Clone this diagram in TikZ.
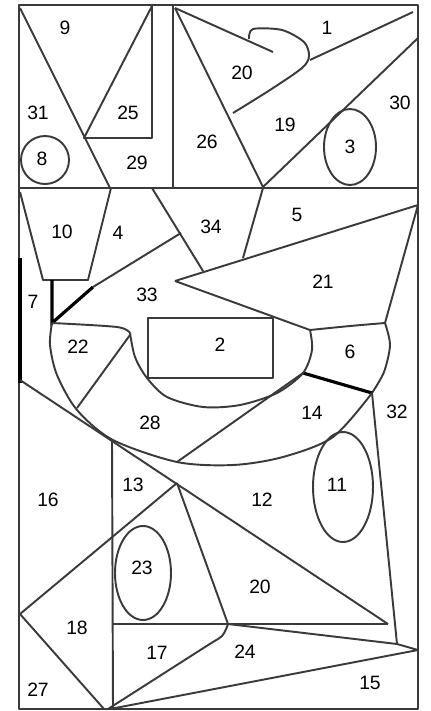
\documentclass[tikz,border=0pt]{standalone}
\usepackage{fontspec}
\setmainfont{Liberation Sans}
\definecolor{Ink}{HTML}{3A3A3A}
\begin{document}
\begin{tikzpicture}[x=0.02cm,y=-0.02cm,
    edge/.style={draw=Ink,line width=1.1pt,line join=round},
    heavy/.style={draw=black,line width=1.8pt},
    lbl/.style={font=\fontsize{11}{13}\selectfont,inner sep=0pt}
  ]
    \useasboundingbox (0,0) rectangle (430,711);
    % frame and main splits
    \draw[edge] (19,5) rectangle (418,709);
    \draw[edge] (19,188) -- (418,188);
    \draw[edge] (173,5) -- (173,188);
    % top left
    \draw[edge] (20,8) -- (110,188);
    \draw[edge] (152,6) -- (152,138) -- (84,138) -- cycle;
    \draw[edge] (45,160) circle (24);
    % top right
    \coordinate (tl) at (175,8);
    \coordinate (tb) at (263,187);
    \draw[edge] (tl) -- (tb) -- (418,38);
    \draw[edge] (tl) -- (273,52);
    \draw[edge] plot[smooth] coordinates {(249,39) (253,29) (282,30) (304,42) (309,56) (302,68) (270,90) (233,113)};
    \draw[edge] (310,60) -- (413,12);
    \draw[edge] (350,147) ellipse (26 and 38);
    % middle band
    \draw[edge] (20,192) -- (43,280) -- (88,280) -- (111,188);
    \draw[heavy] (52,280) -- (52,323) -- (93,287);
    \draw[heavy] (20,258) -- (20,383);
    \coordinate (tip) at (175,281);
    \coordinate (rt) at (418,205);
    \coordinate (sixa) at (310,330);
    \coordinate (sixb) at (385,323);
    \coordinate (sixc) at (372,393);
    \coordinate (sixd) at (303,373);
    \draw[edge] (93,287) -- (181,233);
    \draw[edge] (152,188) -- (203,271);
    \draw[edge] (263,188) -- (243,258);
    \draw[edge] (tip) -- (rt) -- (sixb);
    \draw[edge] (tip) -- (sixa);
    \draw[edge] plot[smooth] coordinates {(sixa) (350,326) (sixb)};
    \draw[edge] plot[smooth] coordinates {(sixb) (390,345) (384,372) (sixc)};
    \draw[heavy] (sixd) -- (sixc);
    \draw[edge] plot[smooth] coordinates {(52,323) (117,327) (130,333)};
    \draw[edge] plot[smooth] coordinates {(130,333) (135,357) (147,378) (167,397) (203,407) (240,405) (277,393) (sixd) (312,350) (sixa)};
    \draw[edge] (148,318) rectangle (273,378);
    \draw[edge] plot[smooth] coordinates {(52,323) (50,345) (57,375) (77,410) (113,440) (177,462) (233,465) (283,457) (333,437) (sixc)};
    \draw[edge] (130,335) -- (77,408);
    \draw[edge] (sixd) -- (177,462);
    \draw[edge] (sixc) -- (397,644);
    \draw[edge] (343,487) ellipse (30 and 55);
    % lower part
    \coordinate (apex) at (177,483);
    \coordinate (foot) at (228,624);
    \coordinate (end) at (388,624);
    \coordinate (lk) at (20,614);
    \draw[edge] (20,380) -- (end);
    \draw[edge] (112,440) -- (113,709);
    \draw[edge] (112,624) -- (end);
    \draw[edge] (apex) -- (foot);
    \draw[edge] (apex) -- (lk) -- (104,709);
    \draw[edge] plot[smooth] coordinates {(foot) (222,636) (205,647) (108,709)};
    \draw[edge] (foot) -- (397,644) -- (418,650) -- (110,709);
    \draw[edge] (143,573) ellipse (28 and 47);
    % region numbers
    \foreach \t/\x/\y [count=\i] in {9/65/28,31/38/113,25/128/113,8/42/159,29/137/163,
        26/207/142,20/242/73,1/327/28,19/285/125,30/400/103,3/350/147,
        10/62/232,4/118/233,34/211/227,5/297/215,21/323/282,7/33/302,
        33/147/295,22/78/347,2/220/345,6/350/352,14/312/413,32/397/412,
        28/150/423,11/337/485,16/48/500,13/133/485,12/262/500,23/142/568,
        20/260/587,18/77/628,17/157/653,24/245/652,15/370/683,27/38/690}
      \node[lbl] (lab\i) at (\x,\y) {\t};
  \end{tikzpicture}
\end{document}
